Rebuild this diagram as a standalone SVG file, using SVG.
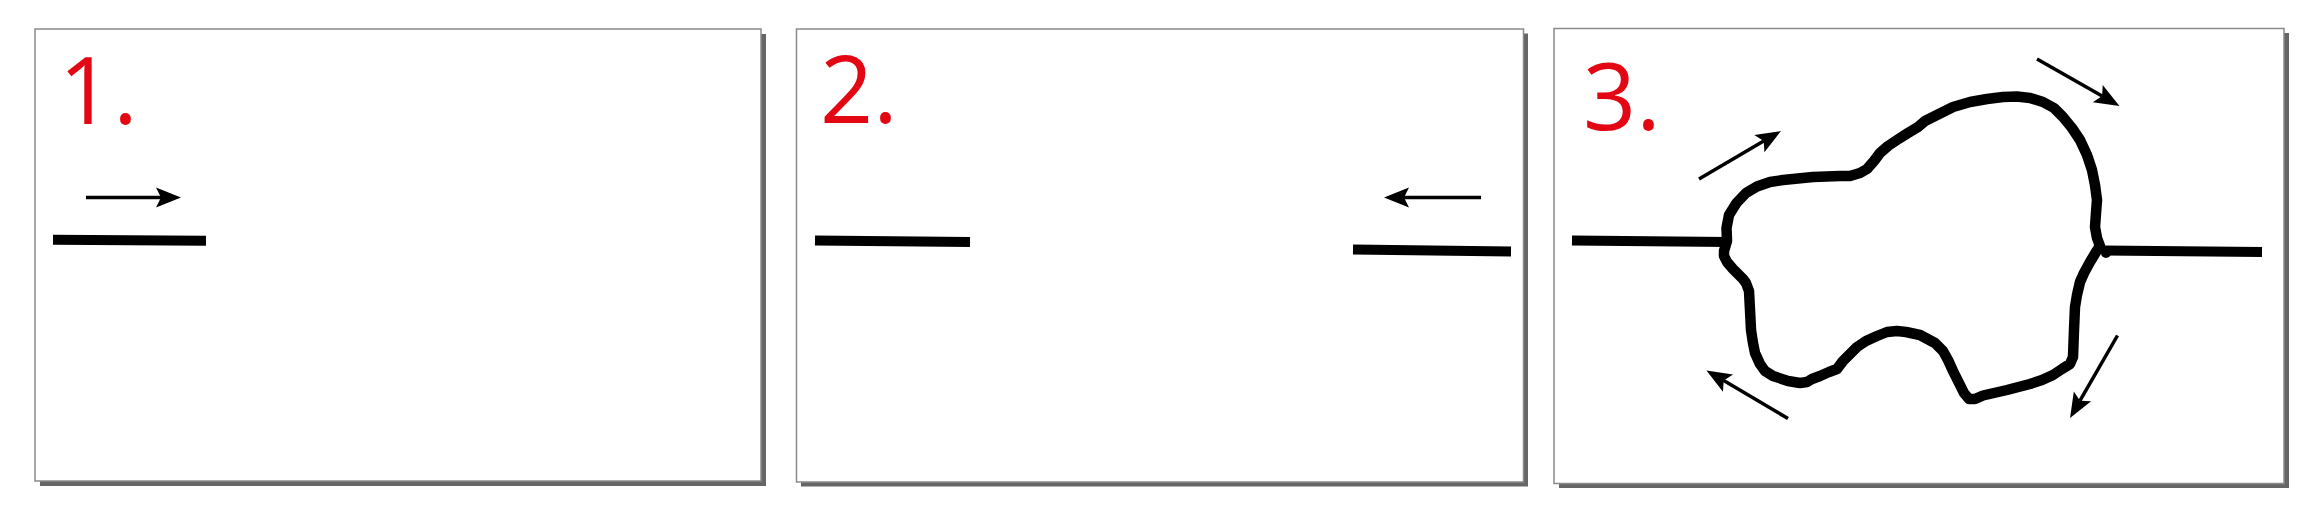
<svg xmlns="http://www.w3.org/2000/svg" width="2310" height="529" viewBox="0 0 2310 529">
  <style>
    .shadow { fill: #666666; }
    .frame { fill: #ffffff; stroke: #8a8a8a; stroke-width: 1.5; }
    .num { font-family: "Open Sans", "Noto Sans", "Liberation Sans", sans-serif; font-size: 93px; fill: #e30613; }
    .bar { stroke: #000000; stroke-width: 10; fill: none; stroke-linecap: butt; }
    .arrow { stroke: #000000; stroke-width: 3.5; fill: none; marker-end: url(#head); }
    .blob { stroke: #000000; stroke-width: 10.5; fill: none; stroke-linejoin: round; stroke-linecap: round; }
  </style>
  <defs>
    <marker id="head" viewBox="-26 -11 28 22" markerWidth="28" markerHeight="22" refX="-20" refY="0" orient="auto" markerUnits="userSpaceOnUse">
      <path d="M0,0 L-25,-10 L-20,0 L-25,10 Z" fill="#000000"/>
    </marker>
  </defs>
  <rect width="2310" height="529" fill="#ffffff"/>

  <g id="panel1">
    <rect class="shadow" x="40" y="34" width="726" height="452"/>
    <rect class="frame" x="35" y="29" width="726" height="452"/>
    <text class="num" x="59" y="124" letter-spacing="1">1.</text>
  </g>
  <g id="panel2">
    <rect class="shadow" x="801" y="33.5" width="727" height="453"/>
    <rect class="frame" x="796.5" y="29" width="727" height="453"/>
    <text class="num" x="820" y="123">2.</text>
  </g>
  <g id="panel3">
    <rect class="shadow" x="1559" y="33" width="730" height="455"/>
    <rect class="frame" x="1554" y="28.5" width="730" height="455"/>
    <text class="num" x="1583" y="130">3.</text>
  </g>

  <g id="strands">
    <line class="bar" x1="53" y1="239.7" x2="206" y2="240.8"/>
    <line class="bar" x1="815" y1="240.5" x2="970" y2="242"/>
    <line class="bar" x1="1353" y1="249.5" x2="1511" y2="251.5"/>
    <line class="bar" x1="1572" y1="240.5" x2="1728" y2="242"/>
    <line class="bar" x1="2103" y1="250.5" x2="2262" y2="252"/>
  </g>

  <g id="bubble">
    <path class="blob" d="M1727,241 L1726.5,228 L1729,215 L1736.5,203 L1746,193 L1757,186.5 L1770,182 L1783,180 L1813,177 L1840,176 L1850,176 L1860,173 L1867,169 L1874,161 L1880,153 L1888,146 L1897,140 L1908,133 L1918,127 L1925,121 L1933,117 L1953,107 L1970,102 L1987,99 L2003,97 L2017,96.5 L2030,98 L2043,102 L2054,108 L2063,117 L2072,128 L2080,140 L2087,155 L2092,170 L2095,185 L2097,200 L2096,213 L2095,227 L2097,238 L2100,246 L2096,252 L2090,262 L2084,273 L2080,282 L2077,295 L2075,307 L2074,330 L2073,357 L2070,364 L2062,369 L2053,375 L2042,380 L2030,384 L2007,390 L1983,395.5 L1975,399 L1969,399 L1964,393 L1958,381 L1953,371 L1948,360 L1943,351 L1935,343 L1920,335 L1906,332 L1897,331 L1887,332 L1877,336 L1866,341 L1857,347 L1850,354 L1843,361 L1837,369 L1829,372 L1820,376 L1812,379 L1807,382 L1800,383 L1788,381 L1773,376 L1765,371 L1760,364 L1755,353 L1753,343 L1751,330 L1750,310 L1749,291 L1746,283 L1743,279 L1738,274 L1733,269 L1727,262 L1724,256 L1724,251 Z"/>
    <circle cx="2106" cy="253" r="5" fill="#000000"/>
  </g>

  <g id="connectors">
    <line class="arrow" x1="86" y1="197.5" x2="161" y2="197.5"/>
    <line class="arrow" x1="1481" y1="197.5" x2="1404" y2="197.5"/>
    <line class="arrow" x1="1699" y1="179" x2="1763.7" y2="141.1"/>
    <line class="arrow" x1="2037" y1="59" x2="2102.1" y2="96.1"/>
    <line class="arrow" x1="1788" y1="418.5" x2="1723.7" y2="380.6"/>
    <line class="arrow" x1="2117.5" y1="335.5" x2="2080" y2="400.7"/>
  </g>
</svg>
